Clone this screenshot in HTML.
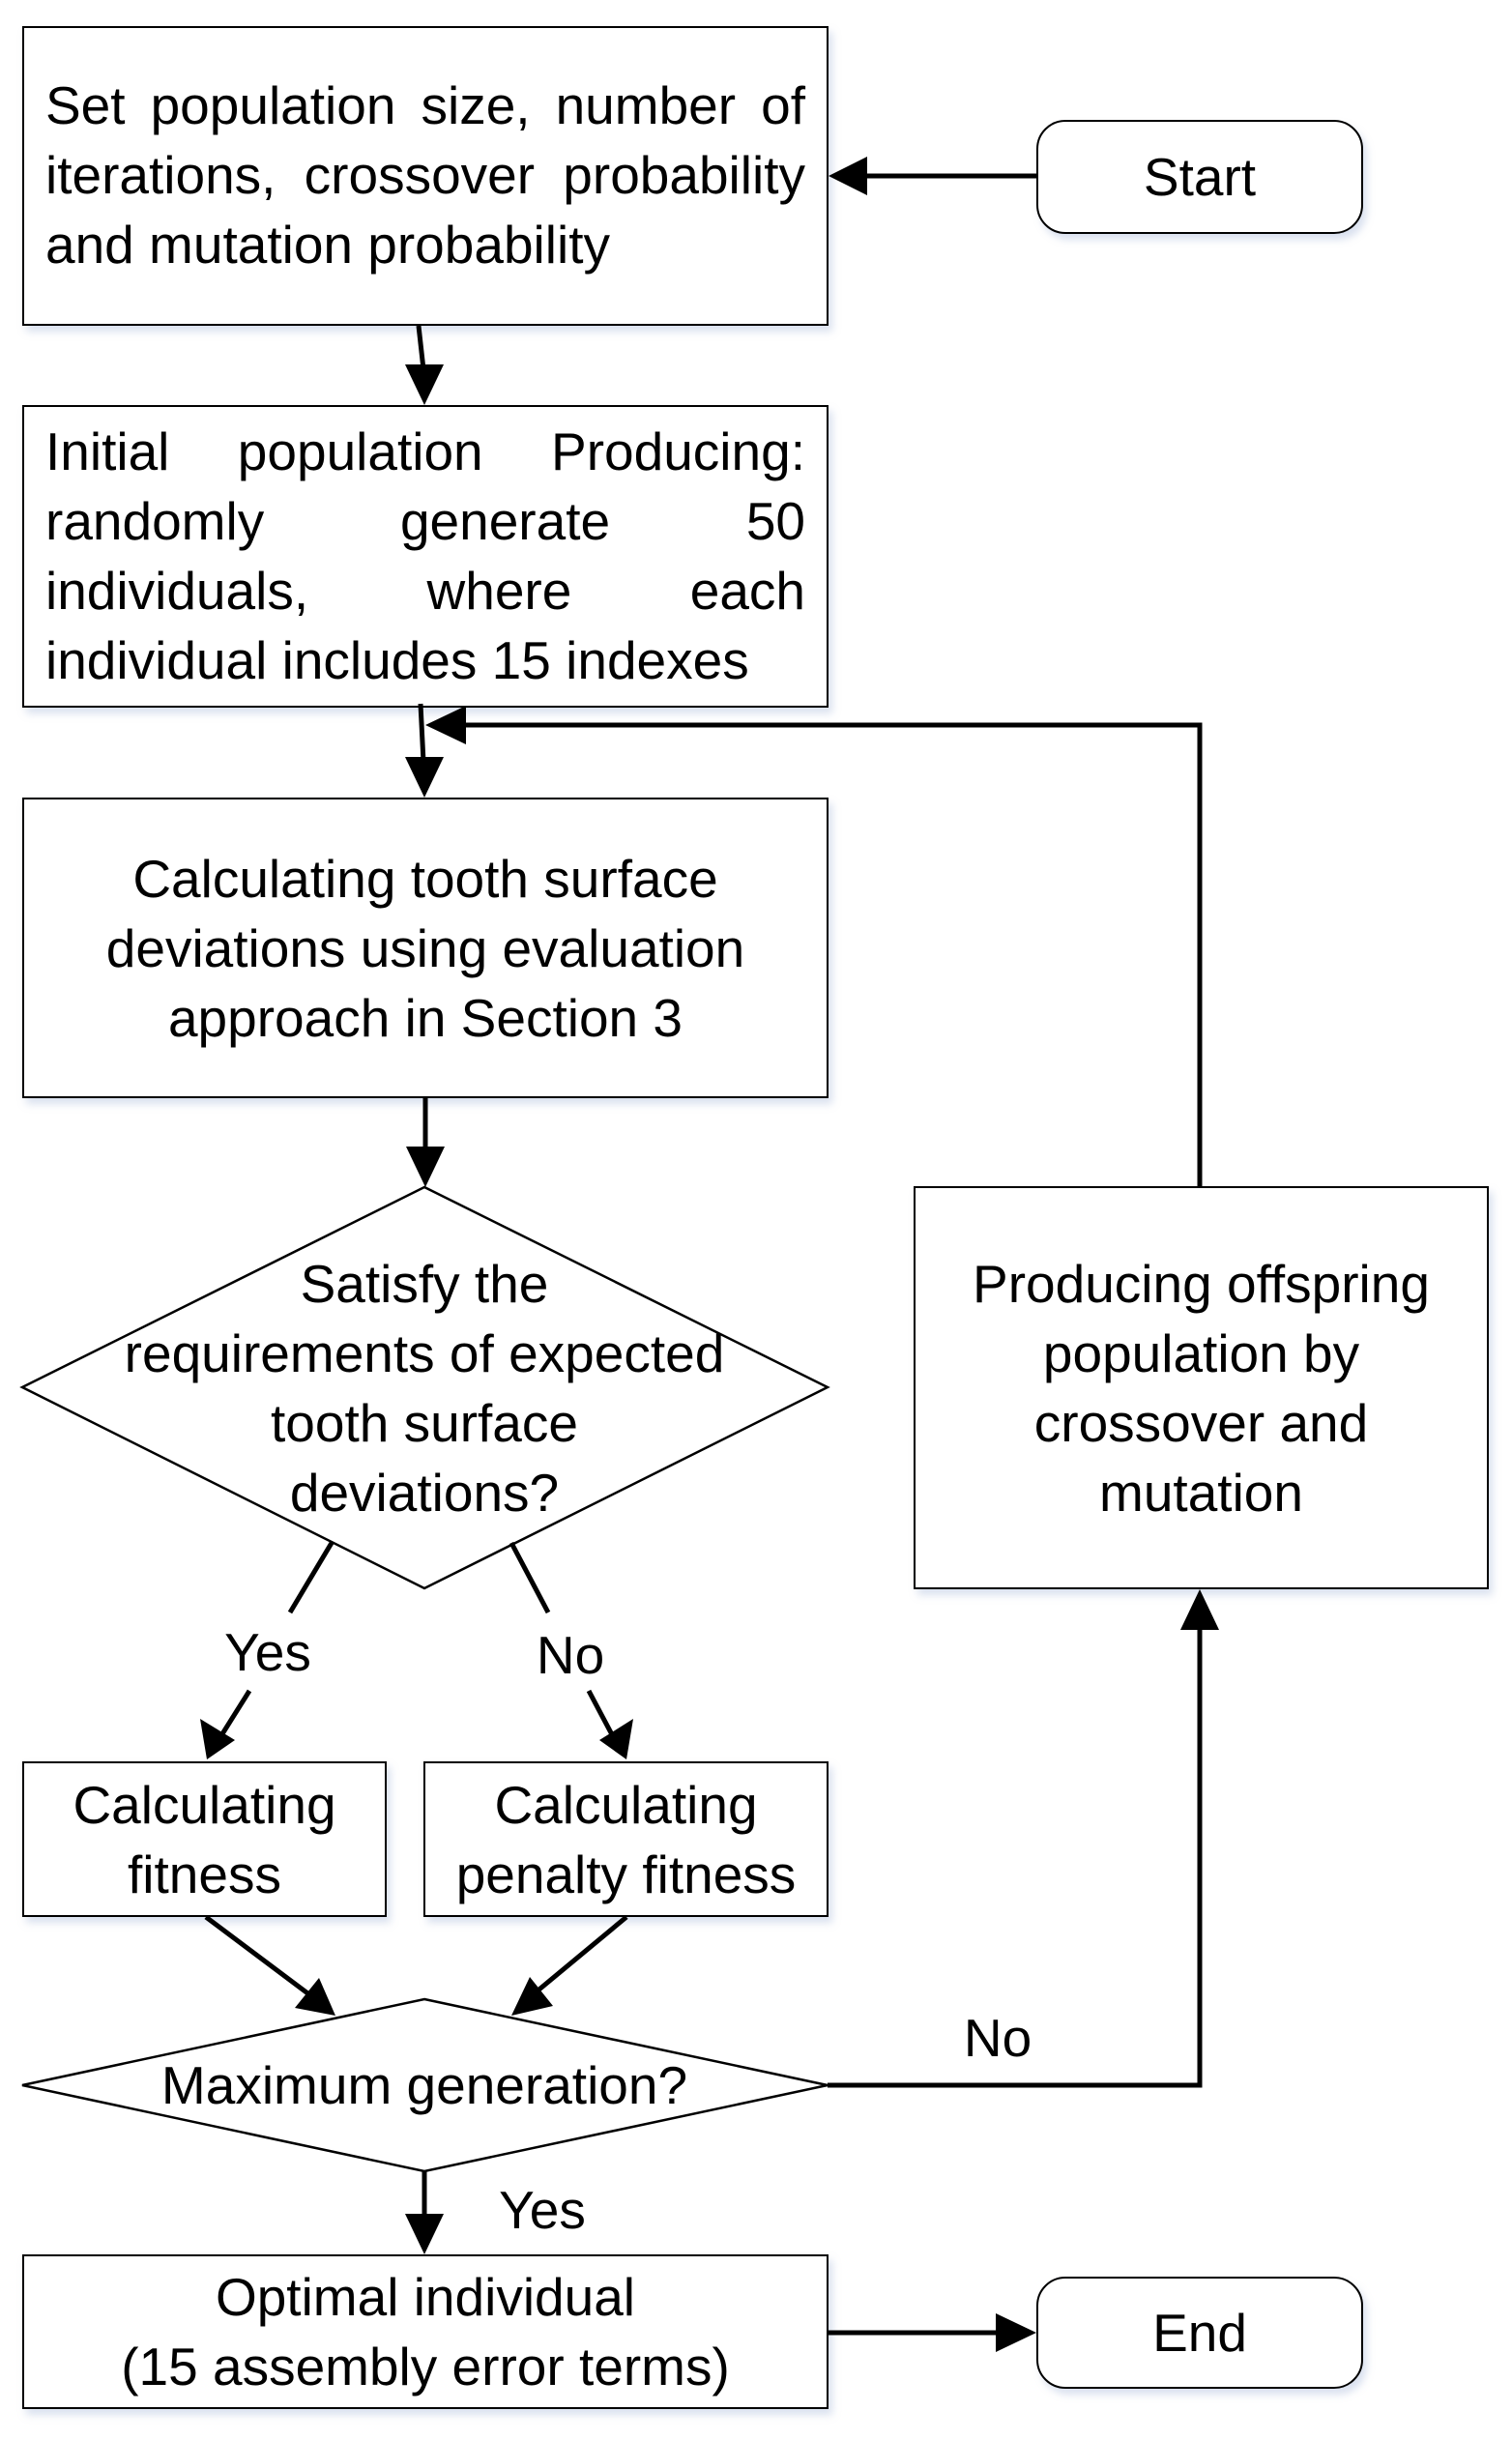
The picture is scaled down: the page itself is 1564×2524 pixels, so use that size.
<!DOCTYPE html>
<html><head><meta charset="utf-8"><style>
body{margin:0;background:#fff;}
#c{position:relative;width:1564px;height:2524px;overflow:hidden;font-family:"Liberation Sans",sans-serif;color:#000;}
.b{position:absolute;box-sizing:border-box;border:2.5px solid #000;background:#fff;box-shadow:4px 6px 8px rgba(150,170,210,0.35);display:flex;align-items:center;justify-content:center;text-align:center;font-size:55px;line-height:72px;}
.t{position:absolute;font-size:55px;line-height:72px;text-align:center;white-space:nowrap;}
.jj{text-align:justify;text-align-last:justify;white-space:nowrap;}
svg{position:absolute;left:0;top:0;}
</style></head><body><div id="c">
<div class="b" style="left:23px;top:27px;width:834px;height:310px;display:block;padding:44px 22px 0;">
<div class="jj">Set population size, number of</div>
<div class="jj">iterations, crossover probability</div>
<div style="text-align:left">and mutation probability</div></div>
<div class="b" style="left:1072px;top:124px;width:338px;height:118px;border-radius:30px;">Start</div>
<div class="b" style="left:23px;top:419px;width:834px;height:313px;display:block;padding:10px 22px 0;">
<div class="jj">Initial population Producing:</div>
<div class="jj">randomly generate 50</div>
<div class="jj">individuals, where each</div>
<div style="text-align:left">individual includes 15 indexes</div></div>
<div class="b" style="left:23px;top:825px;width:834px;height:311px;">Calculating tooth surface<br>deviations using evaluation<br>approach in Section 3</div>
<div class="b" style="left:945px;top:1227px;width:595px;height:417px;">Producing offspring<br>population by<br>crossover and<br>mutation</div>
<div class="b" style="left:23px;top:1822px;width:377px;height:161px;">Calculating<br>fitness</div>
<div class="b" style="left:438px;top:1822px;width:419px;height:161px;">Calculating<br>penalty fitness</div>
<div class="b" style="left:23px;top:2332px;width:834px;height:160px;">Optimal individual<br>(15 assembly error terms)</div>
<div class="b" style="left:1072px;top:2355px;width:338px;height:116px;border-radius:30px;">End</div>
<svg width="1564" height="2524">
<g stroke="#000" stroke-width="5" fill="none">
<polygon points="439,1228 856,1435 439,1643 23,1435" fill="#fff" stroke-width="2.5"/>
<polygon points="439,2068 856,2157 439,2246 23,2157" fill="#fff" stroke-width="2.5"/>
<line x1="343" y1="1596" x2="300" y2="1668"/>
<line x1="529" y1="1596" x2="567" y2="1668"/>
</g>
<g fill="#000">
<polygon points="857,182 897,162 897,202"/><rect x="895" y="179.5" width="177" height="5"/>
<polygon points="439,419 419,377 459,377"/><line x1="433" y1="337" x2="438" y2="382" stroke="#000" stroke-width="5"/>
<polygon points="439,825 419,783 459,783"/><line x1="435" y1="728" x2="438" y2="788" stroke="#000" stroke-width="5"/>
<polygon points="440,750 482,730 482,770"/><polyline points="478,750 1241,750 1241,1227" stroke="#000" stroke-width="5" fill="none"/>
<polygon points="440,1228 420,1186 460,1186"/><line x1="440" y1="1136" x2="440" y2="1191" stroke="#000" stroke-width="5"/>
<polygon points="1241,1644 1221,1686 1261,1686"/><polyline points="856,2157 1241,2157 1241,1682" stroke="#000" stroke-width="5" fill="none"/>
<polygon points="439,2332 419,2290 459,2290"/><line x1="439" y1="2246" x2="439" y2="2295" stroke="#000" stroke-width="5"/>
<polygon points="1072,2413 1030,2393 1030,2433"/><line x1="856" y1="2413" x2="1034" y2="2413" stroke="#000" stroke-width="5"/>
<g stroke="#000" stroke-width="5">
<line x1="258" y1="1749" x2="226" y2="1800"/>
<line x1="609" y1="1749" x2="636" y2="1800"/>
<line x1="213" y1="1983" x2="325" y2="2067"/>
<line x1="648" y1="1983" x2="548" y2="2066"/>
</g>
<polygon points="214,1820 207,1778 243,1800"/>
<polygon points="648,1820 620,1800 655,1778"/>
<polygon points="347,2085 305,2077 330,2046"/>
<polygon points="529,2085 548,2045 572,2075"/>
</g>
</svg>
<div class="t" style="left:0;width:878px;top:1292px;">Satisfy the</div>
<div class="t" style="left:0;width:878px;top:1364px;">requirements of expected</div>
<div class="t" style="left:0;width:878px;top:1436px;">tooth surface</div>
<div class="t" style="left:0;width:878px;top:1508px;">deviations?</div>
<div class="t" style="left:0;width:878px;top:2121px;">Maximum generation?</div>
<div class="t" style="left:227px;width:100px;top:1673px;">Yes</div>
<div class="t" style="left:540px;width:100px;top:1676px;">No</div>
<div class="t" style="left:982px;width:100px;top:2072px;">No</div>
<div class="t" style="left:511px;width:100px;top:2250px;">Yes</div>
</div></body></html>
